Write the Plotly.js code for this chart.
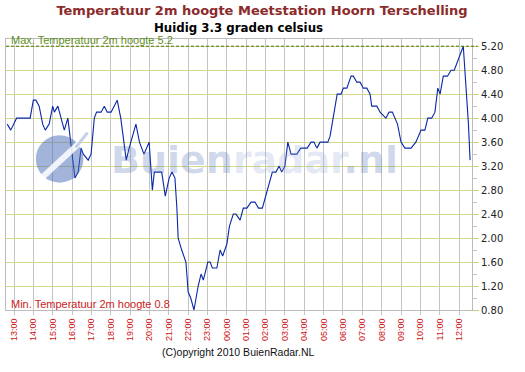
<!DOCTYPE html>
<html>
<head>
<meta charset="utf-8">
<script src="https://cdn.plot.ly/plotly-3.0.1.min.js"></script>
<style>html,body{margin:0;padding:0;background:#fff;}#chart{width:525px;height:372px;}</style>
</head>
<body>
<div id="chart"></div>
<script>
// ---- data ----
const times = [
"2010-01-14 12:39","2010-01-14 12:50","2010-01-14 13:08","2010-01-14 13:50","2010-01-14 14:00","2010-01-14 14:08",
"2010-01-14 14:18","2010-01-14 14:29","2010-01-14 14:37","2010-01-14 14:49","2010-01-14 15:00","2010-01-14 15:05",
"2010-01-14 15:16","2010-01-14 15:26","2010-01-14 15:36","2010-01-14 15:47","2010-01-14 15:53","2010-01-14 16:09",
"2010-01-14 16:19","2010-01-14 16:28","2010-01-14 16:35","2010-01-14 16:50","2010-01-14 16:59","2010-01-14 17:09",
"2010-01-14 17:16","2010-01-14 17:30","2010-01-14 17:40","2010-01-14 17:49","2010-01-14 18:01","2010-01-14 18:20",
"2010-01-14 18:31","2010-01-14 18:48","2010-01-14 18:57","2010-01-14 19:18","2010-01-14 19:29","2010-01-14 19:43",
"2010-01-14 19:59","2010-01-14 20:09","2010-01-14 20:15","2010-01-14 20:38","2010-01-14 20:49","2010-01-14 21:01",
"2010-01-14 21:10","2010-01-14 21:19","2010-01-14 21:25","2010-01-14 21:29","2010-01-14 21:40","2010-01-14 21:53",
"2010-01-14 22:00","2010-01-14 22:08","2010-01-14 22:18","2010-01-14 22:31","2010-01-14 22:40","2010-01-14 22:47",
"2010-01-14 23:01","2010-01-14 23:08","2010-01-14 23:15","2010-01-14 23:29","2010-01-14 23:39","2010-01-14 23:47",
"2010-01-15 00:00","2010-01-15 00:08","2010-01-15 00:20","2010-01-15 00:28","2010-01-15 00:41","2010-01-15 00:51",
"2010-01-15 01:02","2010-01-15 01:15","2010-01-15 01:27","2010-01-15 01:38","2010-01-15 01:50","2010-01-15 02:01",
"2010-01-15 02:12","2010-01-15 02:21","2010-01-15 02:32","2010-01-15 02:42","2010-01-15 02:50","2010-01-15 03:00",
"2010-01-15 03:09","2010-01-15 03:19","2010-01-15 03:37","2010-01-15 03:49","2010-01-15 04:09","2010-01-15 04:21",
"2010-01-15 04:30","2010-01-15 04:39","2010-01-15 04:49","2010-01-15 05:13","2010-01-15 05:20","2010-01-15 05:30",
"2010-01-15 05:42","2010-01-15 05:54","2010-01-15 06:01","2010-01-15 06:12","2010-01-15 06:25","2010-01-15 06:32",
"2010-01-15 06:43","2010-01-15 06:53","2010-01-15 07:03","2010-01-15 07:14","2010-01-15 07:24","2010-01-15 07:29",
"2010-01-15 07:45","2010-01-15 07:55","2010-01-15 08:13","2010-01-15 08:23","2010-01-15 08:33","2010-01-15 08:49",
"2010-01-15 09:00","2010-01-15 09:12","2010-01-15 09:31","2010-01-15 09:46","2010-01-15 10:02","2010-01-15 10:14",
"2010-01-15 10:23","2010-01-15 10:35","2010-01-15 10:45","2010-01-15 10:54","2010-01-15 11:01","2010-01-15 11:11",
"2010-01-15 11:24","2010-01-15 11:35","2010-01-15 11:45","2010-01-15 12:13","2010-01-15 12:18","2010-01-15 12:24",
"2010-01-15 12:29","2010-01-15 12:34"
];
const temps = [
3.9,3.8,4.0,4.0,4.3,4.3,
4.2,3.9,3.8,3.9,4.2,4.1,
4.2,4.0,3.8,4.0,3.7,3.0,
3.1,3.5,3.4,3.3,3.4,4.0,
4.1,4.1,4.2,4.1,4.1,4.3,
4.0,3.3,3.5,3.9,3.6,3.4,
3.6,2.8,3.1,3.1,2.7,3.0,
3.1,3.0,2.5,2.0,1.8,1.6,
1.1,1.0,0.8,1.2,1.4,1.3,
1.6,1.6,1.5,1.5,1.8,1.7,
1.9,2.2,2.4,2.4,2.3,2.5,
2.5,2.6,2.6,2.5,2.5,2.7,
2.9,3.1,3.1,3.2,3.1,3.2,
3.6,3.4,3.4,3.5,3.5,3.6,
3.6,3.5,3.6,3.6,3.7,4.0,
4.4,4.4,4.5,4.5,4.7,4.7,
4.6,4.6,4.5,4.5,4.4,4.2,
4.2,4.1,4.0,4.1,4.1,3.9,
3.6,3.5,3.5,3.6,3.8,3.8,
4.0,4.0,4.1,4.5,4.4,4.7,
4.7,4.8,4.8,5.2,4.8,4.4,
3.9,3.3
];
const hourTicks = [
"2010-01-14 13:00","2010-01-14 14:00","2010-01-14 15:00","2010-01-14 16:00","2010-01-14 17:00","2010-01-14 18:00",
"2010-01-14 19:00","2010-01-14 20:00","2010-01-14 21:00","2010-01-14 22:00","2010-01-14 23:00","2010-01-15 00:00",
"2010-01-15 01:00","2010-01-15 02:00","2010-01-15 03:00","2010-01-15 04:00","2010-01-15 05:00","2010-01-15 06:00",
"2010-01-15 07:00","2010-01-15 08:00","2010-01-15 09:00","2010-01-15 10:00","2010-01-15 11:00","2010-01-15 12:00"
];
const hourLabels = ["13:00","14:00","15:00","16:00","17:00","18:00","19:00","20:00","21:00","22:00","23:00","00:00",
"01:00","02:00","03:00","04:00","05:00","06:00","07:00","08:00","09:00","10:00","11:00","12:00"];
const yTicks = [0.8,1.2,1.6,2.0,2.4,2.8,3.2,3.6,4.0,4.4,4.8,5.2];
const maxTemp = 5.2;
const minTemp = 0.8;
const currentTemp = 3.3;

// ---- chart ----
const trace = {
  x: times, y: temps, type: 'scatter', mode: 'lines',
  line: {color: '#0a28a8', width: 1.1}, hoverinfo: 'skip'
};

const layout = {
  width: 525, height: 372,
  margin: {l: 6, r: 53, t: 39, b: 62, pad: 0},
  paper_bgcolor: '#ffffff', plot_bgcolor: '#ffffff',
  showlegend: false,
  title: {
    text: '<b>Temperatuur 2m hoogte Meetstation Hoorn Terschelling</b>',
    font: {family: 'DejaVu Sans', size: 13, color: '#8b2b2b'},
    x: 262/525, xref: 'container', xanchor: 'center',
    y: 1 - 10/372, yref: 'container', yanchor: 'middle'
  },
  xaxis: {
    type: 'date',
    range: ['2010-01-14 12:35:12', '2010-01-15 12:40:00'],
    tickvals: hourTicks, ticktext: hourLabels,
    tickangle: -90,
    tickfont: {family: 'Liberation Sans', size: 9, color: '#cc1111'},
    showgrid: true, gridcolor: '#c4c4c4', gridwidth: 1,
    ticks: 'outside', ticklen: 4, tickcolor: '#c4c4c4',
    showline: true, linecolor: '#bcbcbc', linewidth: 1, mirror: true,
    zeroline: false, fixedrange: true
  },
  yaxis: {
    side: 'right',
    range: [0.8, 5.32],
    tickvals: yTicks, tickformat: '.2f',
    tickfont: {family: 'DejaVu Sans', size: 10, color: '#222222'},
    showgrid: true, gridcolor: '#d3d98b', gridwidth: 1,
    ticks: 'outside', ticklen: 6, tickcolor: '#c8d07a',
    minor: {dtick: 0.2, tick0: 0.8, ticks: 'outside', ticklen: 4, tickcolor: '#c4c4c4', showgrid: false},
    showline: true, linecolor: '#bcbcbc', linewidth: 1, mirror: true,
    zeroline: false, fixedrange: true
  },
  shapes: [
    {type: 'line', xref: 'paper', yref: 'y', x0: 0, x1: 1.012, y0: maxTemp, y1: maxTemp,
     line: {color: '#4a6e1c', width: 1, dash: '3px,2px'}},
    // watermark logo
    {type: 'circle', xref: 'paper', yref: 'paper', x0: 0.064, x1: 0.166, y0: 0.47, y1: 0.645,
     fillcolor: 'rgba(70,105,180,0.5)', line: {width: 0}, layer: 'above'},
    {type: 'line', xref: 'paper', yref: 'paper', x0: 0.072, y0: 0.48, x1: 0.16, y1: 0.62,
     line: {color: 'rgba(255,255,255,0.85)', width: 6}, layer: 'above'},
    {type: 'line', xref: 'paper', yref: 'paper', x0: 0.15, y0: 0.6, x1: 0.175, y1: 0.655,
     line: {color: 'rgba(160,180,220,0.6)', width: 3}, layer: 'above'}
  ],
  annotations: [
    {text: '<b>Huidig ' + currentTemp + ' graden celsius</b>', xref: 'paper', yref: 'paper',
     x: 232/466, y: 282/271, xanchor: 'center', yanchor: 'middle', showarrow: false,
     font: {family: 'DejaVu Sans', size: 11.8, color: '#000000'}},
    {text: 'Max. Temperatuur 2m hoogte ' + maxTemp, xref: 'paper', yref: 'paper',
     x: 3/466, y: 270/271, xanchor: 'left', yanchor: 'middle', showarrow: false,
     font: {family: 'Liberation Sans', size: 11, color: '#5f8f23'}},
    {text: 'Min. Temperatuur 2m hoogte ' + minTemp, xref: 'paper', yref: 'paper',
     x: 3/466, y: 6.5/271, xanchor: 'left', yanchor: 'middle', showarrow: false,
     font: {family: 'Liberation Sans', size: 11, color: '#cc2222'}},
    {text: '(C)opyright 2010 BuienRadar.NL', xref: 'paper', yref: 'paper',
     x: 232/466, y: -42/271, xanchor: 'center', yanchor: 'middle', showarrow: false,
     font: {family: 'Liberation Sans', size: 10.5, color: '#111111'}},
    {text: '<span style="color:rgba(70,100,175,0.5)">Buien</span><span style="color:rgba(150,170,215,0.5)">radar</span><span style="color:rgba(70,100,175,0.5)">.nl</span>',
     xref: 'paper', yref: 'paper', x: 248/466, y: 150/271, xanchor: 'center', yanchor: 'middle',
     showarrow: false, font: {family: 'DejaVu Sans', size: 38, weight: 'bold', color: 'rgba(70,100,175,0.5)'}}
  ]
};

Plotly.newPlot('chart', [trace], layout, {displayModeBar: false, staticPlot: true});
</script>
</body>
</html>
